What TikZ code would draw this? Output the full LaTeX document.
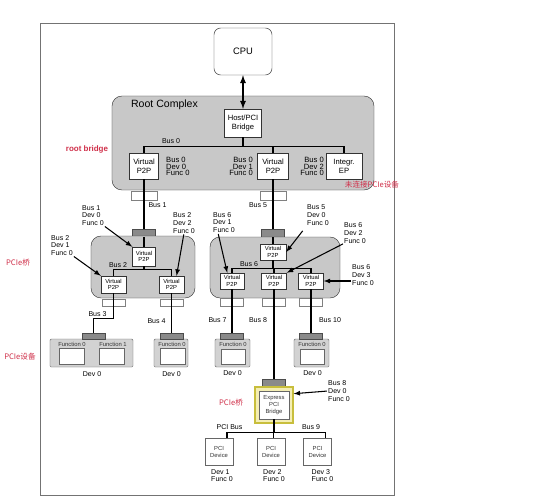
\documentclass[tikz,border=0pt]{standalone}
\usepackage{fontspec}
\setmainfont{Liberation Sans}
\newfontfamily\cjk{Noto Sans CJK SC}
\usepackage{tikz}
\usetikzlibrary{positioning,arrows}
\definecolor{cplxgray}{HTML}{C8C8C8}
\definecolor{devgray}{HTML}{D2D2D2}
\definecolor{portgray}{HTML}{8A8A8A}
\definecolor{notered}{HTML}{D0304A}
\definecolor{bridgeyel}{HTML}{F4EEB4}
\definecolor{bridgeedge}{HTML}{C8BE3C}

\begin{document}
\begin{tikzpicture}[x=.03cm, y=-.03cm, font={\fontsize{6}{6.5}\selectfont},
  bus/.style={line width=1pt},
  arr/.style={-latex, line width=.9pt, shorten <=1pt},
  cplx/.style={draw=black!80, fill=cplxgray, rounded corners=.3cm, inner sep=0pt},
  wbox/.style={draw=black!80, fill=white, inner sep=0pt, align=center, font={\fontsize{6.5}{7.5}\selectfont}},
  sbox/.style={draw=black!80, fill=white, inner sep=0pt, align=center, font={\fontsize{5}{5.5}\selectfont}},
  gport/.style={draw=black!70, fill=portgray, inner sep=0pt, minimum width=.69cm, minimum height=.24cm},
  wport/.style={draw=black!50, fill=white, inner sep=0pt, minimum width=.69cm, minimum height=.24cm},
  dev/.style={draw=black!60, fill=devgray, inner sep=0pt, minimum height=.84cm, rounded corners=1pt},
  fbox/.style={draw=black!60, fill=white, inner sep=0pt, minimum width=.76cm, minimum height=.47cm},
  flab/.style={inner sep=0pt, text=black!80, font={\fontsize{5}{5.5}\selectfont}},
  pcidev/.style={draw=black!60, fill=white, inner sep=0pt, align=center, minimum width=.84cm, minimum height=.81cm, text=black!80, font={\fontsize{5}{6}\selectfont}},
  lab/.style={inner sep=0pt, align=left},
  rlab/.style={inner sep=0pt, font={\fontsize{6.5}{5.3}\selectfont}},
  note/.style={inner sep=0pt, text=notered, font={\cjk\fontsize{6.5}{7}\selectfont}}]

\fill[white] (0,0) rectangle (546,500);
\useasboundingbox (0,0) rectangle (546,500);
\draw[black!55, line width=.8pt] (40,23) rectangle (394,495);

% CPU and root complex
\node[draw=black!80, rounded corners=.2cm, minimum width=1.74cm, minimum height=1.41cm, font={\fontsize{8}{9}\selectfont}] (cpu) at (243,51.5) {CPU};
\node[cplx, minimum width=7.86cm, minimum height=2.82cm] (rc) at (243,143) {};
\node[inner sep=0pt, font={\fontsize{9}{10}\selectfont}] (rctxt) at (164.5,105) {Root Complex};
\node[wbox, minimum width=1.11cm, minimum height=.84cm] (hb) at (243,123) {Host/PCI\\Bridge};
\node[wbox, minimum width=.87cm, minimum height=.78cm] (rv1) at (144,166) {Virtual\\P2P};
\node[wbox, minimum width=.93cm, minimum height=.78cm] (rv2) at (273,166) {Virtual\\P2P};
\node[wbox, minimum width=1.08cm, minimum height=.78cm] (ep) at (344,166) {Integr.\\EP};
\node[wport, minimum width=.78cm, minimum height=.27cm] (rp1) at (144,195.5) {};
\node[wport, minimum width=.78cm, minimum height=.27cm] (rp2) at (273,195.5) {};

\draw[latex-latex, line width=1.3pt] (cpu.south) -- (hb.north);
\draw[bus] (rv1.north) -- ++(0,-6) coordinate (b0) -| (ep.north);
\draw[bus] (hb.south) -- (hb.south |- b0);
\draw[bus] (rv2.north) -- (rv2.north |- b0);

\node[inner sep=0pt] (bus0) at (171,141) {Bus 0};
\node[rlab, anchor=west, align=left] (l00) at (166,166.5) {Bus 0\\Dev 0\\Func 0};
\node[rlab, anchor=east, align=right] (l01) at (253,166.5) {Bus 0\\Dev 1\\Func 0};
\node[rlab, anchor=east, align=right] (l02) at (324,166.5) {Bus 0\\Dev 2\\Func 0};

% left switch
\node[gport] (gp1) at (144,233) {};
\node[cplx, minimum width=3.12cm, minimum height=1.86cm] (sw1) at (143,267) {};
\node[sbox, minimum width=.69cm, minimum height=.57cm] (sv1) at (144,256.5) {Virtual\\P2P};
\node[sbox, minimum width=.75cm, minimum height=.51cm] (sv2) at (113.5,284.5) {Virtual\\P2P};
\node[sbox, minimum width=.75cm, minimum height=.51cm] (sv3) at (171.5,284.5) {Virtual\\P2P};
\node[wport, minimum height=.21cm] (sp1) at (113.5,302.5) {};
\node[wport, minimum height=.21cm] (sp2) at (171.5,302.5) {};

\draw[bus] (rv1.south) -- (gp1.north);
\draw[bus] (gp1.south) -- (sv1.north);
\draw[bus] (sv2.north) -- ++(0,-6) coordinate (b2) -| (sv3.north);
\draw[bus] (sv1.south) -- (sv1.south |- b2);

\node[inner sep=0pt] (bus1) at (157.5,205.5) {Bus 1};
\node[inner sep=0pt] (bus2) at (118,265.5) {Bus 2};
\node[lab, anchor=west] (l10) at (82,215.5) {Bus 1\\Dev 0\\Func 0};
\node[lab, anchor=west] (l21) at (51,245.5) {Bus 2\\Dev 1\\Func 0};
\node[lab, anchor=west] (l22) at (173,223) {Bus 2\\Dev 2\\Func 0};
\draw[arr] (l10.south east) -- (sv1.north west);
\draw[arr] (l21.south east) -- (sv2.north west);
\draw[arr] (l22.south) -- (sv3.60);

% right switch
\node[gport] (gp2) at (273,233) {};
\node[cplx, minimum width=3.9cm, minimum height=1.83cm] (sw2) at (275,267.5) {};
\node[sbox, minimum width=.78cm, minimum height=.48cm] (tv1) at (273,252) {Virtual\\P2P};
\node[sbox, minimum width=.72cm, minimum height=.48cm] (tv2) at (232,281) {Virtual\\P2P};
\node[sbox, minimum width=.75cm, minimum height=.48cm] (tv3) at (274,281) {Virtual\\P2P};
\node[sbox, minimum width=.75cm, minimum height=.48cm] (tv4) at (311,281) {Virtual\\P2P};
\node[wport] (tp1) at (232,302) {};
\node[wport] (tp2) at (274,302) {};
\node[wport] (tp3) at (311,302) {};

\draw[bus] (rv2.south) -- (gp2.north);
\draw[bus] (gp2.south) -- (tv1.north);
\draw[bus] (tv2.north) -- ++(0,-4) coordinate (b6) -| (tv4.north);
\draw[bus] (tv1.south) -- (tv1.south |- b6);
\draw[bus] (tv3.north) -- (tv3.north |- b6);

\node[inner sep=0pt] (bus5) at (258,205) {Bus 5};
\node[inner sep=0pt] (bus6) at (249,264) {Bus 6};
\node[lab, anchor=west] (l51) at (307,215) {Bus 5\\Dev 0\\Func 0};
\node[lab, anchor=west] (l61) at (213,222.5) {Bus 6\\Dev 1\\Func 0};
\node[lab, anchor=west] (l62) at (344,233) {Bus 6\\Dev 2\\Func 0};
\node[lab, anchor=west] (l63) at (352,275) {Bus 6\\Dev 3\\Func 0};
\draw[arr, shorten <=6pt] (l51.south west) -- (tv1.east);
\draw[arr] ([xshift=.15cm]l61.south west) -- (tv2.120);
\draw[arr] (l62.south west) -- (tv3.north east);
\draw[arr] (l63.west |- tv4.east) -- (tv4.east);

% endpoints under the switches
\node[dev, minimum width=2.49cm] (d1) at (91.5,353) {};
\node[gport, minimum height=.18cm] (gd1) at (93.5,336) {};
\node[fbox] (f10) at (72,356) {};
\node[fbox] (f11) at (112,356) {};
\node[flab] (f10t) at (72,344) {Function 0};
\node[flab] (f11t) at (113,344) {Function 1};
\node[dev, minimum width=1.02cm] (d2) at (171,353) {};
\node[gport, minimum height=.18cm] (gd2) at (171.5,336) {};
\node[fbox] (f20) at (172.5,356) {};
\node[flab] (f20t) at (172,344) {Function 0};
\node[dev, minimum width=1.05cm] (d3) at (232.5,353) {};
\node[gport, minimum height=.18cm] (gd3) at (232,336) {};
\node[fbox, minimum width=.72cm, minimum height=.45cm] (f30) at (233,356.5) {};
\node[flab] (f30t) at (233,344) {Function 0};
\node[dev, minimum width=1.05cm] (d4) at (311.5,353) {};
\node[gport, minimum height=.18cm] (gd4) at (311,336) {};
\node[fbox, minimum width=.72cm, minimum height=.45cm] (f40) at (312.5,356.5) {};
\node[flab] (f40t) at (312,344) {Function 0};

\draw[bus] (sv2.south) -- ++(0,25) -| (gd1.north);
\draw[bus] (sv3.south) -- (gd2.north);
\draw[bus] (tv2.south) -- (gd3.north);
\draw[bus] (tv4.south) -- (gd4.north);

\node[inner sep=0pt] (bus3) at (97.5,314.5) {Bus 3};
\node[inner sep=0pt] (bus4) at (156.5,321) {Bus 4};
\node[inner sep=0pt] (bus7) at (217.5,320) {Bus 7};
\node[inner sep=0pt] (bus8) at (258,320) {Bus 8};
\node[inner sep=0pt] (bus10) at (330,320) {Bus 10};
\node[inner sep=0pt] (dv1) at (92,374) {Dev 0};
\node[inner sep=0pt] (dv2) at (171.5,374) {Dev 0};
\node[inner sep=0pt] (dv3) at (232.5,373.5) {Dev 0};
\node[inner sep=0pt] (dv4) at (312.5,373.5) {Dev 0};

% express bridge and PCI bus
\node[gport] (ebp) at (274,383) {};
\node[draw=bridgeedge, line width=1pt, fill=bridgeyel, minimum width=1.14cm, minimum height=1.08cm] (eb) at (274,405) {};
\node[pcidev, minimum width=.9cm, minimum height=.84cm] (ebi) at (274,405) {Express\\PCI\\Bridge};
\draw[bus] (tv3.south) -- (ebp.north);

\node[pcidev] (pd1) at (219,451.5) {PCI\\Device};
\node[pcidev] (pd2) at (271,451.5) {PCI\\Device};
\node[pcidev] (pd3) at (317.5,451.5) {PCI\\Device};
\draw[bus] (pd1.60) -- ++(0,-5) coordinate (b9) -| (pd3.60);
\draw[bus] (ebi.south) -- (ebi.south |- b9);
\draw[bus] (pd2.80) -- (pd2.80 |- b9);

\node[lab, anchor=west] (l8) at (328,391) {Bus 8\\Dev 0\\Func 0};
\draw[arr] (l8.west) -- (eb.30);
\node[inner sep=0pt] (pcibus) at (229.5,427) {PCI Bus};
\node[inner sep=0pt] (bus9) at (311,427) {Bus 9};
\node[lab, anchor=north west] (pl1) at (211,469) {Dev 1\\Func 0};
\node[lab, anchor=north west] (pl2) at (263,469) {Dev 2\\Func 0};
\node[lab, anchor=north west] (pl3) at (311.5,469) {Dev 3\\Func 0};

% red notes
\node[inner sep=0pt, text=notered, font={\bfseries\fontsize{6.8}{7}\selectfont}] (nroot) at (87,149) {root bridge};
\node[note] (nsw) at (18,263) {PCIe桥};
\node[note] (ndev) at (20,357) {PCIe设备};
\node[note] (nep) at (372,185) {未连接PCIe设备};
\node[note] (nbr) at (231,403) {PCIe桥};

\end{tikzpicture}
\end{document}
